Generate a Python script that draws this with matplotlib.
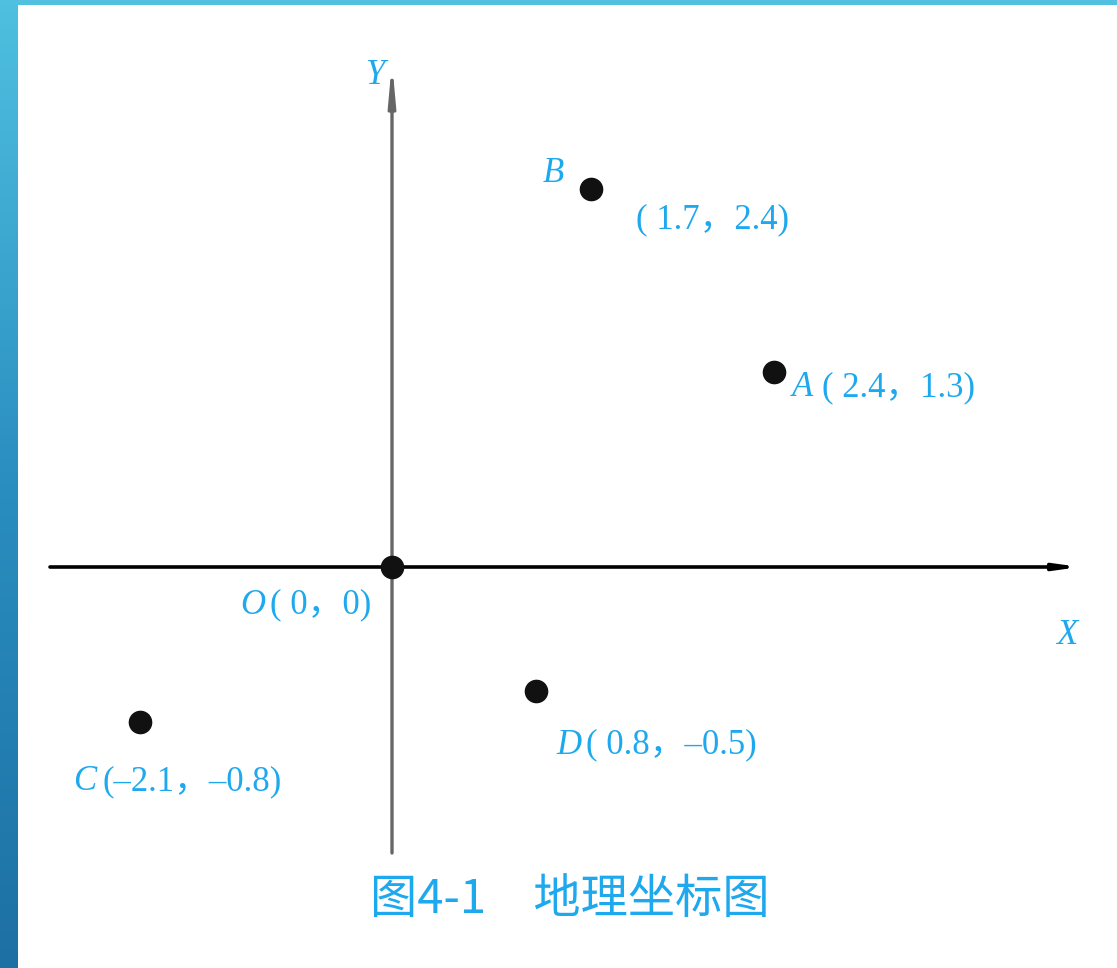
"""地理坐标图 — schematic coordinate plane with five labelled points."""
import matplotlib
matplotlib.use('Agg')
import matplotlib.pyplot as plt
import numpy as np
from matplotlib.colors import LinearSegmentedColormap

plt.rcParams['font.family'] = ['Liberation Serif', 'Noto Sans CJK SC', 'DejaVu Sans']

# ═══ Data ═══
# labelled coordinates (as printed on the figure)
names = ['O', 'A', 'B', 'C', 'D']
x_val = [0, 2.4, 1.7, -2.1, 0.8]
y_val = [0, 1.3, 2.4, -0.8, -0.5]
# drawn positions of the dots (the sketch is not to scale; 1 unit = 100 px)
x_pos = [0.0, 3.82, 1.99, -2.52, 1.44]
y_pos = [0.0, 1.95, 3.78, -1.55, -1.24]

# label offsets (pixels) of the italic letter and of the coordinate text
letter_off = {'O': (-152, -38), 'A': (18, -16), 'B': (-48, 16), 'C': (-67, -60), 'D': (20, -54)}
coord_off = {'O': (-122, -38), 'A': (48, -16), 'B': (45, -31), 'C': (-37, -60), 'D': (50, -54)}

BLUE = '#1ea8ee'
W, H = 1117, 968

fig = plt.figure(figsize=(W / 100, H / 100), dpi=100)
fig.patch.set_facecolor('white')

# ═══ Frame strips (top bar + left gradient bar) ═══
top = fig.add_axes([0, 1 - 5 / H, 1, 5 / H])
top.set_axis_off()
top.add_patch(plt.Rectangle((0, 0), 1, 1, color='#52c1e0', transform=top.transAxes))

side = fig.add_axes([0, 0, 18 / W, 1])
side.set_axis_off()
grad = np.linspace(0, 1, 256).reshape(-1, 1)
cmap = LinearSegmentedColormap.from_list('strip', ['#1d70a3', '#2a8ec0', '#4fc0e0'])
side.imshow(grad, aspect='auto', cmap=cmap, origin='lower', extent=[0, 1, 0, 1])

# ═══ Main axes: origin at pixel (392, 567) ═══
ax = fig.add_axes([0, 0, 1, 1])
ax.set_xlim(-3.92, (W - 392) / 100)
ax.set_ylim(-(H - 567) / 100, 5.67)
ax.set_axis_off()
ax.patch.set_alpha(0)

# X axis (black) and Y axis (gray) with arrow heads
ax.annotate('', xy=(6.88, 0), xytext=(-3.42, 0),
            arrowprops=dict(arrowstyle='-|>,head_length=1.3,head_width=0.18',
                            color='black', lw=2.6, shrinkA=0, shrinkB=0))
ax.annotate('', xy=(0, 5.05), xytext=(0, -2.86),
            arrowprops=dict(arrowstyle='-|>,head_length=2.2,head_width=0.2',
                            color='#666666', lw=2.4, shrinkA=0, shrinkB=0))
ax.text(-0.17, 4.91, 'Y', fontsize=25, style='italic', color=BLUE, ha='center', va='center')
ax.text(6.75, -0.68, 'X', fontsize=25, style='italic', color=BLUE, ha='center', va='center')

# ═══ Points ═══
ax.plot(x_pos, y_pos, 'o', color='#111111', markersize=16, zorder=5, linestyle='none')


def fmt(v):
    s = f'{v:g}'
    return s.replace('-', '–')


for n, xp, yp, xv, yv in zip(names, x_pos, y_pos, x_val, y_val):
    ax.annotate(n, (xp, yp), textcoords='offset pixels', xytext=letter_off[n],
                fontsize=25, style='italic', color=BLUE, ha='left', va='center')
    sx = fmt(xv) if xv < 0 else ' ' + fmt(xv)
    label = f'({sx}，{fmt(yv)})'
    ax.annotate(label, (xp, yp), textcoords='offset pixels', xytext=coord_off[n],
                fontsize=25, color=BLUE, ha='left', va='center')

# ═══ Caption ═══
fig.text(570 / W, 1 - 900 / H, '图4-1　地理坐标图', fontsize=34, color=BLUE,
         ha='center', va='center', family=['Noto Sans CJK SC', 'DejaVu Sans'])

fig.savefig('out.png', dpi=100)
